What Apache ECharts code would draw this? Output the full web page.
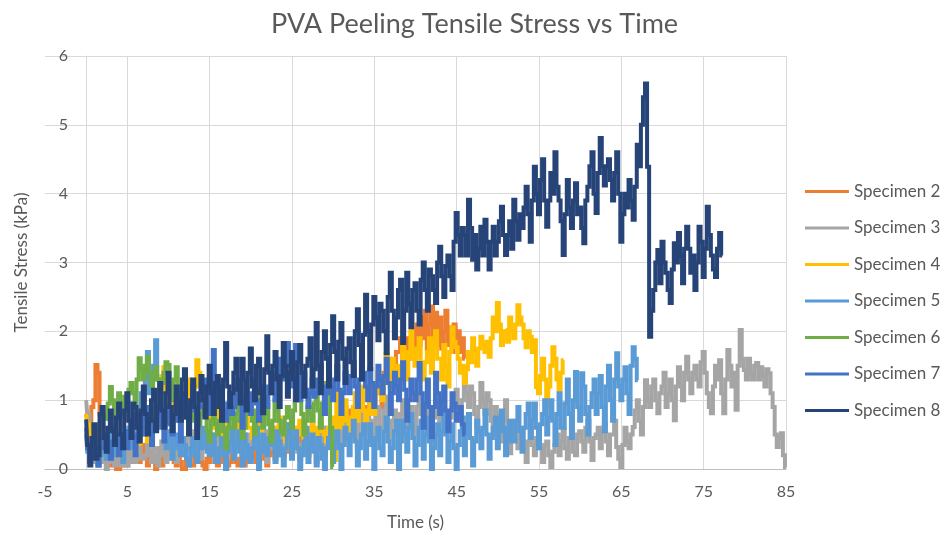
<!DOCTYPE html>
<html>
<head>
<meta charset="utf-8">
<script src="https://cdn.jsdelivr.net/npm/echarts@6/dist/echarts.min.js"></script>
<style>
  html, body { margin: 0; padding: 0; background: #ffffff; }
  #chart { width: 949px; height: 540px; }
</style>
</head>
<body>
<div id="chart"></div>
<script>
const specimenNames = ['Specimen 2', 'Specimen 3', 'Specimen 4', 'Specimen 5', 'Specimen 6', 'Specimen 7', 'Specimen 8'];
const specimenColors = ['#ED7D31', '#A5A5A5', '#FFC000', '#5B9BD5', '#70AD47', '#4472C4', '#264478'];
// time of first reading (s) for each specimen; readings every quarter second
const startTimes = [0, 0, 0, 0, 2.5, 0, 0];
const SAMPLE_STEP = 0.25;

const xTicks = { min: -5, max: 85, step: 10 };
const yTicks = { min: 0, max: 6, step: 1 };

// Tensile stress readings, kPa (one row group per second)
const spec2 = [
  0.8, 0.7, 0.65, 0.9,   1.0, 1.51, 1.4, 0.8,   0.6, 0.35, 0.2, 0.1,   0.05, 0.2, 0.15, 0.0,  0.0, 0.15, 0.1, 0.05,
  0.05, 0.25, 0.2, 0.1,  0.3, 0.15, 0.1, 0.25,  0.35, 0.2, 0.05, 0.15, 0.25, 0.1, 0.0, 0.2,  0.3, 0.05, 0.15, 0.25,
  0.2, 0.3, 0.35, 0.1,   0.05, 0.2, 0.1, 0.0,   0.0, 0.1, 0.15, 0.05,  0.05, 0.25, 0.2, 0.1,  0.1, 0.05, 0.0, 0.15,
  0.1, 0.3, 0.35, 0.2,   0.05, 0.15, 0.2, 0.1,  0.0, 0.05, 0.1, 0.2,   0.15, 0.1, 0.05, 0.15, 0.2, 0.05, 0.1, 0.25,
  0.15, 0.2, 0.3, 0.1,   0.1, 0.3, 0.25, 0.15,  0.05, 0.2, 0.35, 0.25, 0.15, 0.35, 0.3, 0.2,  0.2, 0.3, 0.4, 0.25,
  0.25, 0.4, 0.45, 0.3,  0.3, 0.45, 0.5, 0.35,  0.2, 0.4, 0.55, 0.45,  0.35, 0.5, 0.6, 0.4,   0.4, 0.6, 0.5, 0.45,
  0.6, 0.5, 0.45, 0.7,   0.75, 0.6, 0.5, 0.8,   0.85, 0.7, 0.6, 0.9,   0.8, 1.0, 0.95, 0.75,  0.7, 0.9, 1.0, 1.15,
  0.85, 1.2, 1.1, 1.3,   0.9, 1.4, 1.3, 1.6,    1.5, 1.3, 1.2, 1.7,    1.7, 1.9, 1.4, 1.8,    1.9, 1.6, 1.77, 2.0,
  1.68, 2.1, 1.8, 2.2,   1.9, 2.3, 1.75, 2.1,   2.36, 1.9, 2.27, 1.8,  2.2, 1.75, 2.0, 2.3,   1.8, 2.06, 1.7, 2.1,
  1.8, 2.0, 1.7, 1.9,    1.6
];

const spec3 = [
  1.0, 0.8, 0.6, 0.4,   0.2, 0.1, 0.05, 0.15,  0.1, 0.2, 0.0, 0.1,   0.15, 0.25, 0.05, 0.2,  0.2, 0.05, 0.1, 0.3,
  0.05, 0.15, 0.25, 0.1, 0.1, 0.35, 0.3, 0.15, 0.15, 0.2, 0.35, 0.25, 0.1, 0.3, 0.3, 0.05, 0.2, 0.4, 0.35, 0.1,
  0.15, 0.25, 0.3, 0.45, 0.1, 0.3, 0.4, 0.2,  0.2, 0.45, 0.5, 0.3,   0.25, 0.55, 0.45, 0.2, 0.15, 0.35, 0.55, 0.4,
  0.3, 0.45, 0.5, 0.2,  0.2, 0.6, 0.45, 0.3,  0.1, 0.35, 0.4, 0.5,   0.25, 0.4, 0.55, 0.3,  0.15, 0.45, 0.5, 0.25,
  0.3, 0.5, 0.6, 0.35,  0.2, 0.4, 0.45, 0.55, 0.1, 0.35, 0.5, 0.3,   0.3, 0.6, 0.55, 0.4,   0.2, 0.45, 0.65, 0.5,
  0.35, 0.6, 0.5, 0.25, 0.15, 0.35, 0.45, 0.55, 0.25, 0.5, 0.6, 0.3, 0.1, 0.3, 0.4, 0.6,    0.2, 0.4, 0.5, 0.7,
  0.45, 0.6, 0.75, 0.5, 0.35, 0.7, 0.9, 0.6,  0.5, 0.65, 0.8, 0.45,  0.3, 0.7, 0.95, 0.75,  0.55, 0.8, 0.7, 0.45,
  0.4, 0.75, 0.9, 0.6,  0.6, 0.85, 1.05, 0.7, 0.45, 0.7, 0.85, 0.55, 0.3, 0.8, 1.0, 0.75,   0.6, 0.75, 0.9, 0.65,
  0.5, 0.9, 1.1, 0.8,   0.65, 0.8, 0.95, 0.6, 0.4, 0.75, 1.0, 0.85,  0.7, 0.95, 1.19, 0.8,  0.55, 0.75, 0.9, 1.0,
  1.15, 0.9, 0.7, 1.0,  1.34, 1.1, 0.9, 1.2,  1.1, 0.8, 0.6, 0.9,    1.25, 1.0, 0.8, 1.1,   1.0, 0.7, 0.5, 0.9,
  0.81, 0.6, 0.4, 0.7,  1.0, 0.5, 0.23, 0.5,  0.7, 0.45, 0.3, 0.6,   0.55, 0.3, 0.1, 0.4,   0.6, 0.35, 0.2, 0.45,
  0.5, 0.3, 0.1, 0.35,  0.4, 0.2, 0.03, 0.25, 0.35, 0.5, 0.2, 0.4,   0.56, 0.3, 0.15, 0.45, 0.45, 0.25, 0.2, 0.5,
  0.55, 0.4, 0.25, 0.6, 0.7, 0.4, 0.13, 0.45, 0.5, 0.6, 0.3, 0.55,   0.65, 0.4, 0.2, 0.5,   0.5, 0.7, 0.32, 0.15,
  0.03, 0.35, 0.6, 0.4, 0.3, 0.5, 0.61, 0.85, 1.0, 0.7, 0.5, 0.9,    1.29, 1.0, 0.9, 1.2,   1.3, 1.0, 0.81, 1.1,
  1.2, 1.4, 0.9, 1.1,   1.3, 1.0, 0.71, 1.2,  1.48, 1.2, 1.0, 1.4,   1.63, 1.3, 1.1, 1.4,   1.5, 1.3, 1.2, 1.55,
  1.7, 1.4, 1.1, 0.9,   0.81, 1.2, 1.5, 1.3,  1.58, 1.1, 0.81, 1.3,  1.73, 1.5, 1.2, 1.4,   0.86, 1.5, 2.02, 1.6,
  1.44, 1.3, 1.6, 1.4,  1.3, 1.5, 1.54, 1.3,  1.48, 1.35, 1.2, 1.45, 1.39, 1.1, 0.9, 0.5,   0.32, 0.45, 0.52, 0.2,
  0.03
];

const spec4 = [
  0.8, 0.65, 0.5, 0.4,   0.3, 0.45, 0.6, 0.35,  0.2, 0.3, 0.45, 0.25,  0.3, 0.5, 0.55, 0.4,   0.2, 0.35, 0.5, 0.3,
  0.35, 0.5, 0.6, 0.45,  0.25, 0.4, 0.37, 0.55, 0.7, 0.5, 0.4, 0.65,   0.9, 0.75, 0.6, 1.0,   1.2, 1.35, 1.48, 1.1,
  0.9, 1.2, 1.1, 0.8,    0.7, 0.9, 1.0, 0.85,   0.8, 1.1, 1.3, 1.0,    0.9, 1.2, 1.58, 1.4,   1.2, 0.9, 1.0, 0.75,
  0.8, 0.7, 0.6, 0.85,   0.9, 0.65, 0.5, 0.7,   0.75, 0.5, 0.6, 0.45,  0.4, 0.6, 0.7, 0.55,   0.5, 0.65, 0.8, 0.6,
  0.6, 0.45, 0.4, 0.55,  0.7, 0.6, 0.5, 0.35,   0.3, 0.45, 0.6, 0.5,   0.4, 0.6, 0.75, 0.55,  0.5, 0.4, 0.3, 0.45,
  0.6, 0.5, 0.45, 0.6,   0.7, 0.5, 0.35, 0.45,  0.5, 0.55, 0.65, 0.5,  0.4, 0.6, 0.7, 0.55,   0.5, 0.4, 0.6, 0.75,
  0.2, 0.13, 1.15, 0.9,  0.6, 0.8, 1.0, 0.7,    0.4, 0.75, 0.9, 1.1,   0.7, 0.95, 1.2, 0.85,  0.55, 0.8, 1.05, 1.25,
  0.8, 1.1, 1.4, 1.2,    1.0, 1.3, 1.68, 1.45,  1.2, 1.6, 1.5, 1.3,    1.1, 1.5, 1.8, 1.55,   1.3, 1.7, 2.0, 1.6,
  1.5, 1.75, 1.9, 1.4,   1.3, 1.55, 1.7, 1.9,   1.4, 1.8, 2.0, 1.6,    1.6, 1.3, 1.8, 1.5,    1.2, 1.7, 2.06, 1.85,
  1.77, 1.6, 1.4, 1.5,   1.25, 1.45, 1.7, 1.55, 1.9, 1.7, 1.5, 1.75,   1.92, 1.8, 1.7, 1.85,  1.63, 1.9, 2.2, 2.0,
  2.41, 2.1, 1.8, 2.0,   2.02, 1.85, 2.2, 2.0,  1.9, 2.1, 2.38, 2.2,   2.1, 1.9, 1.77, 2.0,   1.92, 1.7, 1.87, 1.19,
  1.1, 1.35, 1.6, 1.3,   0.9, 1.2, 1.5, 1.77,   1.6, 1.3, 1.15, 1.4,   1.58
];

const spec5 = [
  0.5, 0.25, 0.1, 0.35,  0.3, 0.15, 0.05, 0.2,  0.4, 0.3, 0.15, 0.5,   0.6, 0.35, 0.2, 0.3,   0.45, 0.25, 0.1, 0.4,
  0.55, 0.6, 0.3, 0.7,   0.8, 0.4, 0.5, 1.1,    1.0, 1.3, 1.7, 1.1,    1.2, 1.5, 1.87, 1.3,   0.9, 0.7, 0.6, 0.3,
  0.4, 0.55, 0.15, 0.3,  0.5, 0.35, 0.2, 0.45,  0.35, 0.15, 0.05, 0.3, 0.45, 0.2, 0.1, 0.4,  0.3, 0.6, 0.55, 0.25,
  0.2, 0.4, 0.5, 0.1,    0.1, 0.3, 0.45, 0.2,   0.0, 0.25, 0.4, 0.6,   0.15, 0.35, 0.55, 0.25, 0.05, 0.5, 0.35, 0.15,
  0.1, 0.3, 0.45, 0.6,   0.0, 0.25, 0.5, 0.3,   0.2, 0.45, 0.6, 0.35,  0.1, 0.55, 0.4, 0.2,   0.05, 0.3, 0.5, 0.65,
  0.15, 0.4, 0.55, 0.3,  0.0, 0.2, 0.4, 0.6,    0.1, 0.35, 0.5, 0.25,  0.05, 0.45, 0.35, 0.15, 0.0, 0.3, 0.45, 0.55,
  0.1, 0.4, 0.55, 0.3,   0.0, 0.35, 0.6, 0.45,  0.2, 0.5, 0.7, 0.4,    0.05, 0.3, 0.5, 0.65,  0.15, 0.4, 0.65, 0.35,
  0.0, 0.45, 0.6, 0.3,   0.2, 0.55, 0.75, 0.4,  0.1, 0.3, 0.55, 0.7,   0.0, 0.4, 0.7, 0.5,    0.25, 0.6, 0.8, 0.45,
  0.05, 0.35, 0.6, 0.7,  0.15, 0.5, 0.75, 0.4,  0.0, 0.3, 0.5, 0.65,   0.2, 0.55, 0.85, 0.5,  0.1, 0.4, 0.65, 0.3,
  0.0, 0.35, 0.55, 0.75, 0.2, 0.5, 0.8, 0.45,   0.05, 0.4, 0.7, 0.55,  0.3, 0.6, 0.85, 0.5,   0.15, 0.45, 0.6, 0.75,
  0.3, 0.55, 0.85, 0.6,  0.2, 0.5, 0.7, 0.4,    0.4, 0.7, 0.9, 0.55,   0.25, 0.6, 0.8, 0.95,  0.45, 0.7, 0.95, 0.6,
  0.3, 0.65, 0.8, 1.0,   0.5, 0.75, 1.0, 0.7,   0.35, 0.8, 1.1, 0.6,   0.6, 0.95, 1.3, 0.8,   0.45, 1.0, 1.41, 0.9,
  0.7, 1.39, 1.2, 0.8,   0.5, 0.9, 1.1, 1.3,    0.8, 1.1, 1.35, 0.9,   0.55, 1.2, 1.5, 1.0,   0.7, 1.3, 1.68, 1.2,
  1.0, 1.3, 1.48, 1.1,   0.8, 1.5, 1.77, 1.6,   1.29
];

const spec6 = [
  0.7, 0.95, 1.19, 1.0, 0.9, 0.75, 1.1, 0.95, 0.8, 1.05,
  1.0, 1.15, 1.25, 1.1, 0.9, 1.3, 1.61, 1.45, 1.3, 1.5,
  1.63, 1.4, 1.2, 1.35, 1.48, 1.3, 1.1, 1.25, 1.4, 1.55,
  1.51, 1.2, 1.0, 1.3, 1.48, 1.1, 0.8, 0.95, 1.1, 0.8,
  0.6, 0.75, 0.9, 0.7, 0.5, 0.65, 0.8, 0.9, 0.76, 0.55,
  0.4, 0.7, 0.9, 0.65, 0.5, 0.7, 0.85, 0.55, 0.3, 0.6,
  0.9, 0.75, 0.6, 0.8, 1.0, 0.7, 0.45, 0.6, 0.8, 0.9,
  0.96, 0.7, 0.5, 0.85, 1.15, 0.9, 0.6, 0.8, 0.95, 0.65,
  0.4, 0.7, 1.0, 0.85, 0.7, 0.55, 0.5, 0.75, 0.9, 0.75,
  0.6, 0.85, 1.0, 1.1, 1.15, 0.8, 0.5, 0.7, 0.9, 0.8,
  0.7, 0.95, 1.1, 0.85, 0.6, 0.95, 1.25, 1.1, 1.2, 0.6,
  0.03
];

const spec7 = [
  0.6, 0.3, 0.1, 0.25,   0.4, 0.2, 0.05, 0.3,   0.3, 0.45, 0.5, 0.25,  0.15, 0.4, 0.6, 0.35,  0.2, 0.5, 0.45, 0.3,
  0.3, 0.55, 0.7, 0.45,  0.2, 0.5, 0.8, 0.6,    0.5, 0.75, 0.9, 0.55,  0.35, 0.7, 0.6, 0.8,   0.85, 0.6, 0.4, 0.7,
  0.9, 0.65, 0.5, 0.8,   1.0, 0.7, 0.4, 0.75,   1.1, 0.9, 0.7, 0.95,   1.2, 0.85, 0.6, 0.9,   1.0, 1.15, 1.3, 0.95,
  0.8, 1.3, 1.73, 1.2,   0.9, 1.05, 1.2, 0.85,  0.7, 0.95, 1.1, 0.8,   0.9, 1.15, 1.3, 1.0,   0.6, 0.9, 1.15, 0.95,
  0.8, 1.1, 1.3, 0.95,   0.7, 1.0, 1.2, 1.05,   0.9, 1.2, 1.4, 1.1,    1.0, 1.35, 1.6, 1.4,   1.3, 1.6, 1.83, 1.5,
  1.2, 1.5, 1.8, 1.35,   1.0, 1.2, 1.4, 1.15,   0.9, 1.1, 1.3, 1.05,   1.1, 1.3, 1.5, 1.2,    0.8, 1.1, 1.35, 1.2,
  1.0, 1.3, 1.5, 1.15,   0.8, 1.1, 1.4, 1.25,   1.1, 1.35, 1.55, 1.2,  0.9, 1.3, 1.63, 1.4,   1.2, 1.0, 1.45, 1.25,
  0.9, 1.2, 1.5, 1.3,    1.1, 1.35, 1.6, 1.25,  0.8, 1.1, 1.4, 1.2,    1.0, 1.3, 1.55, 1.15,  0.7, 1.0, 1.3, 1.1,
  1.0, 1.3, 1.54, 1.1,   0.6, 0.95, 1.3, 0.9,   0.46, 0.9, 1.4, 1.1,   0.8, 1.0, 1.2, 0.85,   0.55, 0.85, 1.1, 0.95,
  0.7, 0.8, 0.9, 0.65,   0.5
];

const spec8 = [
  0.72, 0.35, 0.05, 0.45, 0.65, 0.15, 0.2, 0.8,  0.9, 0.45, 0.25, 0.6,   0.85, 0.55, 0.35, 0.75, 0.95, 0.5, 0.3, 0.85,
  1.1, 0.7, 0.45, 0.95,   0.9, 0.6, 0.4, 0.85,   1.2, 0.8, 0.5, 0.7,    1.0, 1.15, 0.55, 0.9,   1.25, 0.85, 0.6, 1.1,
  1.4, 0.9, 0.55, 0.8,    1.2, 1.0, 0.7, 1.3,    1.45, 0.75, 0.5, 1.0,  1.3, 0.9, 0.45, 1.1,    1.35, 1.0, 0.75, 1.2,
  1.5, 1.1, 0.8, 1.25,    1.35, 0.9, 0.7, 1.3,   1.83, 1.2, 0.9, 1.1,   1.4, 1.6, 1.15, 0.95,   1.6, 1.3, 0.85, 1.4,
  1.75, 1.2, 1.0, 1.5,    1.6, 1.1, 0.81, 1.45,  1.93, 1.4, 1.1, 1.5,   1.7, 1.3, 0.9, 1.35,    1.83, 1.5, 1.05, 1.4,
  1.7, 1.3, 1.0, 1.55,    1.8, 1.4, 1.05, 1.5,   1.6, 1.9, 1.2, 1.45,   2.12, 1.5, 1.1, 1.7,    2.0, 1.6, 1.2, 1.8,
  2.22, 1.7, 1.3, 1.85,   2.12, 1.6, 1.25, 1.75, 1.9, 1.55, 1.35, 2.0, 2.32, 1.8, 1.3, 1.95,   2.53, 2.0, 1.45, 2.1,
  2.5, 2.2, 1.87, 2.4,    2.3, 2.0, 1.68, 2.5,   2.85, 2.3, 1.9, 2.2,   2.6, 2.75, 1.83, 2.3,   2.85, 2.4, 2.06, 2.6,
  2.7, 2.3, 2.1, 2.75,    3.0, 2.6, 2.3, 2.9,    2.8, 2.6, 2.41, 3.0,   3.23, 2.8, 2.5, 2.95,   3.1, 2.8, 2.6, 3.3,
  3.72, 3.4, 3.1, 3.5,    3.4, 3.1, 3.91, 3.5,   3.04, 3.4, 2.9, 3.2,   3.52, 3.1, 3.62, 3.3,   2.9, 3.3, 3.52, 3.1,
  3.3, 3.6, 3.81, 3.4,    3.11, 3.4, 3.6, 3.2,   3.91, 3.6, 3.33, 3.7,  3.5, 3.8, 4.1, 3.7,     3.3, 3.9, 4.39, 4.0,
  3.7, 4.2, 4.5, 3.9,     3.52, 3.9, 4.3, 4.0,   4.6, 4.1, 3.9, 3.6,    3.11, 3.7, 4.2, 3.8,    3.5, 3.9, 4.15, 3.7,
  3.8, 3.5, 3.28, 3.9,    4.1, 4.4, 4.6, 4.0,    3.72, 4.3, 4.81, 4.4,  4.12, 4.4, 4.5, 4.2,    3.9, 4.3, 4.6, 4.0,
  3.3, 3.7, 4.0, 3.8,     4.2, 3.9, 3.62, 4.1,   4.71, 4.4, 5.0, 5.4,   5.6, 4.39, 1.92, 2.3,   2.6, 3.0, 3.18, 2.7,
  3.3, 3.0, 2.85, 2.6,    2.41, 2.9, 3.28, 3.0,  3.43, 3.1, 2.7, 3.2,   3.52, 3.2, 2.85, 3.1,   2.6, 3.0, 3.52, 3.3,
  2.79, 3.2, 3.81, 3.4,   3.1, 2.9, 2.79, 3.2,   3.43, 3.1
];

const specimenReadings = [spec2, spec3, spec4, spec5, spec6, spec7, spec8];

// Pair each reading with its time stamp
function toPoints(readings, t0) {
  return readings.map((v, i) => [+(t0 + i * SAMPLE_STEP).toFixed(2), v]);
}

const TEXT = '#595959';
const FONT = 'Lato';

const chart = echarts.init(document.getElementById('chart'), null, { renderer: 'canvas' });

chart.setOption({
  animation: false,
  backgroundColor: '#ffffff',
  textStyle: { fontFamily: FONT },
  title: {
    text: 'PVA Peeling Tensile Stress vs Time',
    left: 'center',
    top: 6,
    textStyle: { fontFamily: FONT, fontSize: 27, fontWeight: 'normal', color: TEXT }
  },
  legend: {
    orient: 'vertical',
    left: 805,
    top: 183,
    padding: 0,
    icon: 'rect',
    itemWidth: 44,
    itemHeight: 3,
    itemGap: 19.5,
    textStyle: { fontFamily: FONT, fontSize: 17, color: TEXT },
    data: specimenNames
  },
  grid: { left: 45, right: 163, top: 56, bottom: 71, outerBoundsMode: 'none', containLabel: false },
  xAxis: {
    type: 'value',
    min: xTicks.min,
    max: xTicks.max,
    interval: xTicks.step,
    name: 'Time (s)',
    nameLocation: 'middle',
    nameGap: 45,
    nameTextStyle: { fontFamily: FONT, fontSize: 17, color: TEXT },
    axisLine: { show: true, onZero: false, lineStyle: { color: '#bfbfbf', width: 1 } },
    axisTick: { show: false },
    axisLabel: { color: TEXT, fontSize: 16, margin: 15 },
    splitLine: { show: true, showMinLine: false, lineStyle: { color: '#d9d9d9', width: 1 } }
  },
  yAxis: {
    type: 'value',
    min: yTicks.min,
    max: yTicks.max,
    interval: yTicks.step,
    name: 'Tensile Stress (kPa)',
    nameLocation: 'middle',
    nameGap: 15,
    nameTextStyle: { fontFamily: FONT, fontSize: 17, color: TEXT },
    axisLine: { show: true, onZero: true, lineStyle: { color: '#d9d9d9', width: 1 } },
    axisTick: { show: false },
    axisLabel: { color: TEXT, fontSize: 16, inside: true, align: 'right', margin: 23 },
    splitLine: { show: true, lineStyle: { color: '#d9d9d9', width: 1 } }
  },
  series: specimenNames.map((name, k) => ({
    name: name,
    type: 'line',
    data: toPoints(specimenReadings[k], startTimes[k]),
    step: 'middle',
    symbol: 'none',
    showSymbol: false,
    sampling: null,
    color: specimenColors[k],
    lineStyle: { color: specimenColors[k], width: 4, join: 'miter' },
    emphasis: { disabled: true },
    silent: true
  }))
});
</script>
</body>
</html>
